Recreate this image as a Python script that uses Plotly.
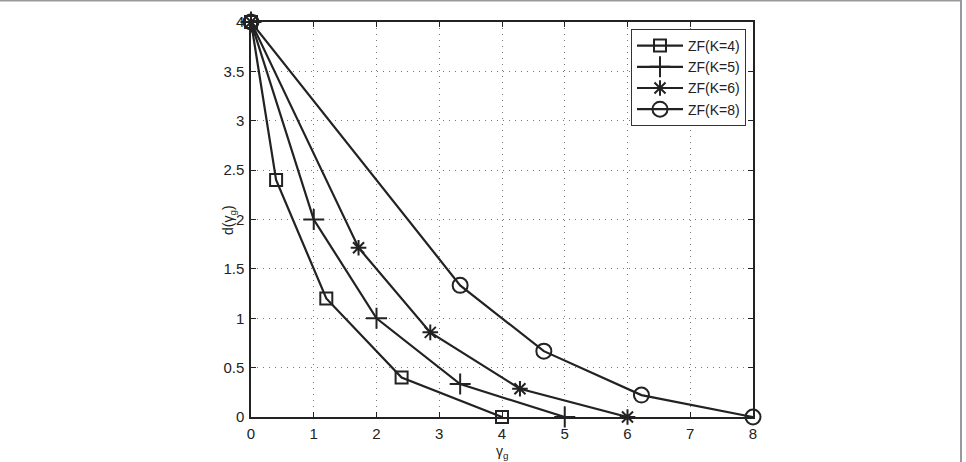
import plotly.graph_objects as go

series_names = ["ZF(K=4)", "ZF(K=5)", "ZF(K=6)", "ZF(K=8)"]
x_k4 = [0, 0.4, 1.2, 2.4, 4]
y_k4 = [4, 2.4, 1.2, 0.4, 0]
x_k5 = [0, 1, 2, 3.333, 5]
y_k5 = [4, 2, 1, 0.333, 0]
x_k6 = [0, 1.714, 2.857, 4.286, 6]
y_k6 = [4, 1.714, 0.857, 0.286, 0]
x_k8 = [0, 3.333, 4.667, 6.222, 8]
y_k8 = [4, 1.333, 0.667, 0.222, 0]
x_ticks = [0, 1, 2, 3, 4, 5, 6, 7, 8]
y_ticks = [0, 0.5, 1, 1.5, 2, 2.5, 3, 3.5, 4]
y_tick_labels = ["0", "0.5", "1", "1.5", "2", "2.5", "3", "3.5", "4"]
x_title = "γ<sub>g</sub>"
y_title = "d(γ<sub>g</sub>)"

C = "#222222"
symbols = ["square-open", "cross-thin-open", "asterisk-open", "circle-open"]
sizes = [12, 15, 13, 15]
xs = [x_k4, x_k5, x_k6, x_k8]
ys = [y_k4, y_k5, y_k6, y_k8]

fig = go.Figure()
for name, x, y, s, sz in zip(series_names, xs, ys, symbols, sizes):
    fig.add_trace(go.Scatter(
        x=x, y=y, name=name, mode="lines+markers",
        line=dict(color=C, width=2.2),
        marker=dict(symbol=s, size=sz, color=C, line=dict(color=C, width=2)),
        cliponaxis=False,
    ))

W, H = 966, 462
L, R, T, B = 251, 753, 22, 417
pw, ph = R - L, B - T

def px(xp):
    return (xp - L) / pw

def py(yp):
    return (B - yp) / ph

fig.update_layout(
    width=W, height=H,
    margin=dict(l=L, r=W - R, t=T, b=H - B),
    paper_bgcolor="white", plot_bgcolor="white",
    font=dict(family="Liberation Sans, Arial, sans-serif", size=15, color=C),
    showlegend=True,
    legend=dict(
        x=px(746), y=py(29), xanchor="right", yanchor="top",
        bordercolor="#333333", borderwidth=1, bgcolor="white",
        font=dict(size=14, color=C), tracegroupgap=0, itemwidth=46,
    ),
    xaxis=dict(
        range=[0, 8], tickvals=x_ticks, showgrid=True, automargin=False,
        gridcolor="#777777", griddash="1px,5px", gridwidth=1,
        showline=True, linecolor=C, linewidth=1.5, mirror="allticks",
        ticks="inside", ticklen=5, tickcolor=C, zeroline=False,
        tickfont=dict(size=15), ticklabelstandoff=2,
    ),
    yaxis=dict(
        range=[0, 4], tickvals=y_ticks, ticktext=y_tick_labels, showgrid=True,
        automargin=False,
        gridcolor="#777777", griddash="1px,5px", gridwidth=1,
        showline=True, linecolor=C, linewidth=1.5, mirror="allticks",
        ticks="inside", ticklen=5, tickcolor=C, zeroline=False,
        tickfont=dict(size=15), ticklabelstandoff=2,
    ),
    annotations=[
        dict(text=x_title, xref="paper", yref="paper", x=px(502), y=py(452),
             xanchor="center", yanchor="middle", showarrow=False,
             font=dict(size=14, color=C)),
        dict(text=y_title, xref="paper", yref="paper", x=px(229), y=py(220),
             xanchor="center", yanchor="middle", showarrow=False, textangle=-90,
             font=dict(size=14, color=C)),
    ],
    shapes=[dict(
        type="rect", xref="paper", yref="paper",
        x0=px(-2), x1=px(961), y0=py(480), y1=py(0.5),
        line=dict(color="#999999", width=2), layer="below",
    )],
)

fig.write_html("out.html")
